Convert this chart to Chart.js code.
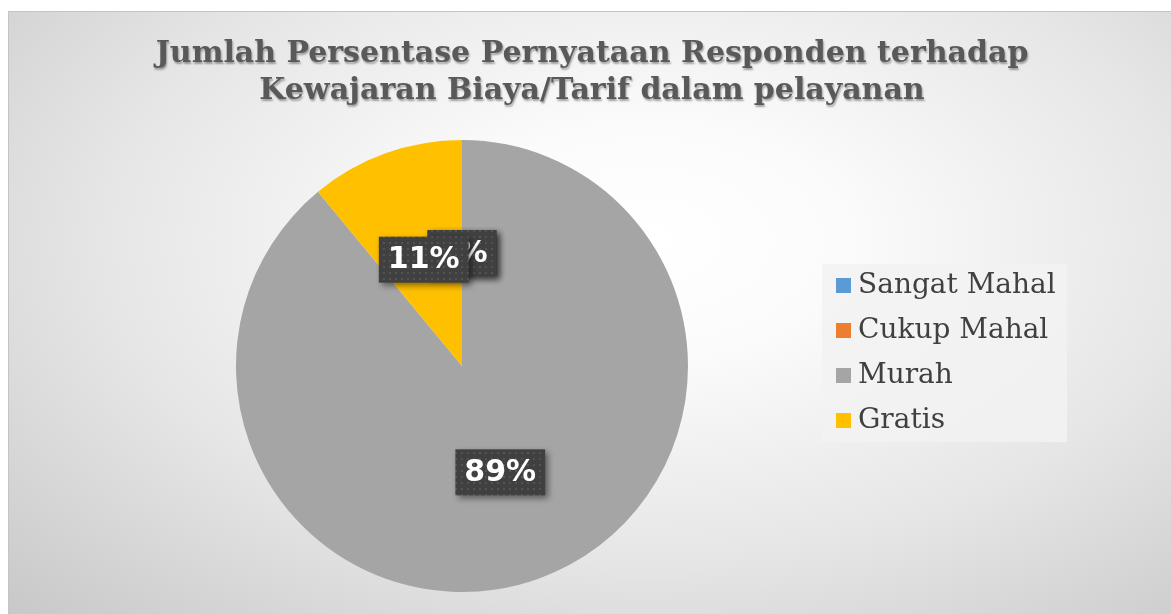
<!DOCTYPE html>
<html lang="id">
<head>
<meta charset="UTF-8">
<title>Kewajaran Biaya/Tarif</title>
<script src="https://cdn.jsdelivr.net/npm/chart.js"></script>
<style>
  html, body { margin: 0; padding: 0; background: #ffffff; }
  .frame {
    position: absolute; left: 8px; top: 11px; width: 1163px; height: 603px;
    background: radial-gradient(ellipse farthest-corner at 55% 38%, #ffffff 0%, #fbfbfb 22%, #e6e6e6 60%, #c8c8c8 100%);
    border-top: 1px solid #c4c4c4; border-left: 1px solid #c4c4c4;
    box-sizing: border-box;
  }
  canvas { display: block; }
</style>
</head>
<body>
<div class="frame"><canvas id="pie" width="1162" height="602"></canvas></div>
<script>
// chart data
const categories = ['Sangat Mahal', 'Cukup Mahal', 'Murah', 'Gratis'];
const percentages = [0, 0, 89, 11];
const sliceColors = ['#5b9bd5', '#ed7d31', '#a5a5a5', '#ffc000'];
const titleLines = ['Jumlah Persentase Pernyataan Responden terhadap', 'Kewajaran Biaya/Tarif dalam pelayanan'];

// dotted dark pattern for the label boxes
function makePattern(ctx) {
  const c = document.createElement('canvas');
  c.width = 6; c.height = 6;
  const p = c.getContext('2d');
  p.fillStyle = '#404040';
  p.fillRect(0, 0, 6, 6);
  p.fillStyle = '#535353';
  p.fillRect(2, 2, 2, 2);
  return ctx.createPattern(c, 'repeat');
}

// title centred across the whole frame, with a soft shadow
const frameTitle = {
  id: 'frameTitle',
  afterDraw(chart) {
    const ctx = chart.ctx;
    ctx.save();
    ctx.font = 'bold 30px "DejaVu Serif", serif';
    ctx.textAlign = 'center';
    ctx.textBaseline = 'middle';
    ctx.shadowColor = 'rgba(0,0,0,0.35)';
    ctx.shadowBlur = 2;
    ctx.shadowOffsetX = 1;
    ctx.shadowOffsetY = 2;
    ctx.fillStyle = '#595959';
    titleLines.forEach((line, i) => ctx.fillText(line, chart.width / 2 + 2, 42 + i * 37));
    ctx.restore();
  }
};

// percentage labels in dark boxes, half way out on each slice
const boxLabels = {
  id: 'boxLabels',
  afterDatasetsDraw(chart) {
    const ctx = chart.ctx;
    const meta = chart.getDatasetMeta(0);
    const fill = makePattern(ctx);
    ctx.save();
    ctx.font = 'bold 30px "DejaVu Sans", Verdana, sans-serif';
    ctx.textAlign = 'center';
    ctx.textBaseline = 'middle';
    meta.data.forEach((arc, i) => {
      const p = arc.getProps(['x', 'y', 'startAngle', 'endAngle', 'outerRadius']);
      const mid = (p.startAngle + p.endAngle) / 2;
      const r = p.outerRadius * 0.5;
      const cx = p.x + Math.cos(mid) * r;
      const cy = p.y + Math.sin(mid) * r;
      const txt = percentages[i] + '%';
      const w = ctx.measureText(txt).width + 18;
      const h = 46;
      ctx.shadowColor = 'rgba(0,0,0,0.45)';
      ctx.shadowBlur = 6;
      ctx.shadowOffsetX = 3;
      ctx.shadowOffsetY = 3;
      ctx.fillStyle = fill;
      ctx.fillRect(cx - w / 2, cy - h / 2, w, h);
      ctx.shadowColor = 'transparent';
      ctx.fillStyle = '#ffffff';
      ctx.fillText(txt, cx, cy + 1);
    });
    ctx.restore();
  }
};

// legend panel on the right
const sideLegend = {
  id: 'sideLegend',
  afterDraw(chart) {
    const ctx = chart.ctx;
    const x0 = 813, y0 = 252, w = 245, h = 178;
    ctx.save();
    ctx.fillStyle = 'rgba(242,242,242,0.85)';
    ctx.fillRect(x0, y0, w, h);
    ctx.font = '28px "DejaVu Serif", "Liberation Serif", serif';
    ctx.textBaseline = 'middle';
    categories.forEach((name, i) => {
      const y = 273 + i * 45;
      ctx.fillStyle = sliceColors[i];
      ctx.fillRect(827, y - 7, 15, 15);
      ctx.fillStyle = '#404040';
      ctx.fillText(name, 849, y + 1);
    });
    ctx.restore();
  }
};

new Chart(document.getElementById('pie'), {
  type: 'pie',
  data: {
    labels: categories,
    datasets: [{
      data: percentages,
      backgroundColor: sliceColors,
      borderWidth: 0
    }]
  },
  options: {
    responsive: false,
    animation: false,
    layout: { padding: { top: 128, left: 0, right: 256, bottom: 22 } },
    plugins: {
      legend: { display: false },
      tooltip: { enabled: false },
      title: { display: false }
    }
  },
  plugins: [boxLabels, sideLegend, frameTitle]
});
</script>
</body>
</html>
